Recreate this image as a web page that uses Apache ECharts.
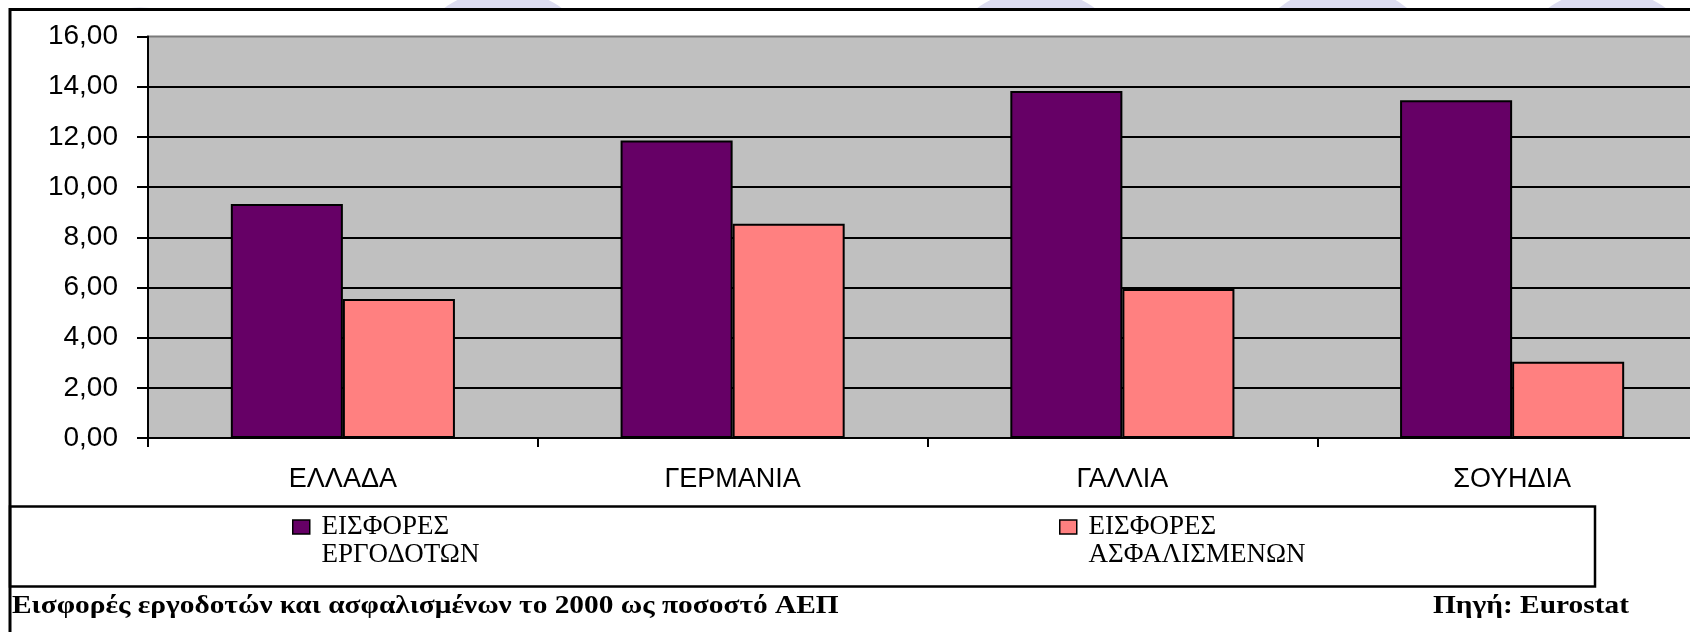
<!DOCTYPE html>
<html><head><meta charset="utf-8">
<script src="https://cdn.jsdelivr.net/npm/echarts@6/dist/echarts.min.js"></script>
<style>html,body{margin:0;padding:0;background:#fff}#c{width:1690px;height:632px}</style>
</head><body><div id="c"></div>
<script>
// ---- data ----
const categories = ['ΕΛΛΑΔΑ', 'ΓΕΡΜΑΝΙΑ', 'ΓΑΛΛΙΑ', 'ΣΟΥΗΔΙΑ'];
const seriesNames = ['ΕΙΣΦΟΡΕΣ ΕΡΓΟΔΟΤΩΝ', 'ΕΙΣΦΟΡΕΣ ΑΣΦΑΛΙΣΜΕΝΩΝ'];
const employerValues = [9.33, 11.86, 13.83, 13.46];
const insuredValues = [5.54, 8.54, 5.94, 3.04];
const yTickValues = [0, 2, 4, 6, 8, 10, 12, 14, 16];
const titleText = 'Εισφορές εργοδοτών και ασφαλισμένων το 2000 ως ποσοστό ΑΕΠ';
const sourceText = 'Πηγή: Eurostat';

// ---- style ----
const PURPLE = '#660066', PINK = '#FF8080', PLOT_BG = '#C0C0C0';
const sans = 'Liberation Sans, Arial, sans-serif';
const serif = 'Liberation Serif, Times New Roman, serif';

const chart = echarts.init(document.getElementById('c'), null, {renderer: 'canvas'});

function ring(cx, w) {
  const R = 100;
  const cy = 9 + Math.sqrt(R * R - (w / 2) * (w / 2));
  return {type: 'circle', z: -101, silent: true, shape: {cx: cx, cy: cy, r: R}, style: {fill: '#DCDCF0'}};
}

const legendCommon = {
  orient: 'horizontal', padding: 0, itemWidth: 17, itemHeight: 14, itemGap: 0,
  icon: 'rect', selectedMode: false, top: 485,
  itemStyle: {borderColor: '#000', borderWidth: 1.5},
  formatter: function (n) { return '\u00a0\n\u00a0' + n.replace(' ', '\n\u00a0'); },
  textStyle: {fontFamily: serif, fontSize: 27, lineHeight: 28, color: '#000'}
};

const footStyle = {fontFamily: serif, fontWeight: 'bold', fontSize: 26, fill: '#000',
  textVerticalAlign: 'middle', verticalAlign: 'middle'};

chart.setOption({
  backgroundColor: '#fff',
  animation: false,
  graphic: [
    ring(140, 34), ring(503, 120), ring(1036, 120), ring(1343, 130), ring(1607, 120),
    {type: 'rect', z: -100, silent: true, shape: {x: 10, y: 9.5, width: 1800, height: 700},
     style: {fill: '#fff', stroke: '#000', lineWidth: 3}},
    {type: 'rect', z: 10, silent: true, shape: {x: 10, y: 506.5, width: 1585, height: 80},
     style: {fill: 'none', stroke: '#000', lineWidth: 2.5}},
    {type: 'text', z: 10, silent: true, x: 12, y: 606.5, scaleX: 1.13,
     style: Object.assign({text: titleText}, footStyle)},
    {type: 'text', z: 10, silent: true, x: 1433, y: 606.5, scaleX: 1.13,
     style: Object.assign({text: sourceText}, footStyle)}
  ],
  legend: [
    Object.assign({}, legendCommon, {data: [seriesNames[0]], left: 292}),
    Object.assign({}, legendCommon, {data: [seriesNames[1]], left: 1059})
  ],
  grid: {
    left: 148, top: 36.5, width: 1559, bottom: 194,
    outerBoundsMode: 'none',
    show: true, backgroundColor: PLOT_BG, borderColor: '#7a7a7a', borderWidth: 2,
    containLabel: false
  },
  xAxis: {
    type: 'category', data: categories,
    axisLine: {show: true, lineStyle: {color: '#000', width: 2}},
    axisTick: {show: true, length: 9, lineStyle: {color: '#000', width: 2}},
    axisLabel: {margin: 28, color: '#000', fontFamily: sans, fontSize: 27},
    splitLine: {show: false}
  },
  yAxis: {
    type: 'value', min: yTickValues[0], max: yTickValues[yTickValues.length - 1],
    interval: yTickValues[1] - yTickValues[0],
    axisLine: {show: true, lineStyle: {color: '#000', width: 2}},
    axisTick: {show: true, length: 11, lineStyle: {color: '#000', width: 2}},
    axisLabel: {margin: 30, color: '#000', fontFamily: sans, fontSize: 28,
      formatter: function (v) { return v.toFixed(2).replace('.', ','); }},
    splitLine: {show: true, showMaxLine: false, lineStyle: {color: '#000', width: 2}}
  },
  series: [
    {name: seriesNames[0], type: 'bar', data: employerValues, barGap: '0%', barCategoryGap: '42.5%',
     itemStyle: {color: PURPLE, borderColor: '#000', borderWidth: 2}},
    {name: seriesNames[1], type: 'bar', data: insuredValues, barGap: '0%', barCategoryGap: '42.5%',
     itemStyle: {color: PINK, borderColor: '#000', borderWidth: 2}}
  ]
});
</script>
</body></html>
